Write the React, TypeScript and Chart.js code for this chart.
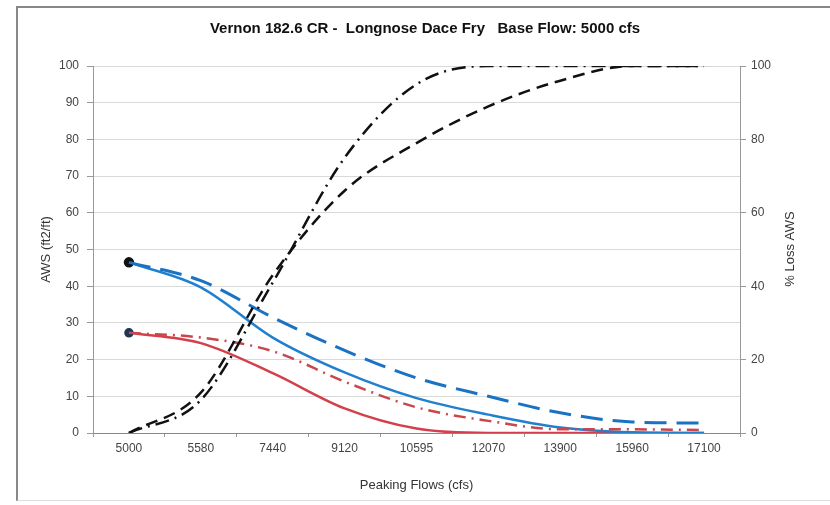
import React, { useEffect, useRef } from 'react';
import { Chart, registerables } from 'chart.js';

Chart.register(...registerables);

const titleText = 'Vernon 182.6 CR -  Longnose Dace Fry   Base Flow: 5000 cfs';
const categories = ['5000', '5580', '7440', '9120', '10595', '12070', '13900', '15960', '17100'];

// AWS (ft2/ft), left axis
const blueSolid = [46.5, 39.7, 26, 16.5, 9.5, 5, 1.5, 0.2, 0];
const blueDashed = [46.5, 41.5, 31.5, 22.5, 15, 10, 5.5, 3, 2.7];
const redSolid = [27.3, 24.5, 16.3, 6.7, 1.2, 0, 0, 0, 0];
const redDashDot = [27.3, 26, 22.3, 14, 7, 3.3, 1, 1, 0.8];

// % Loss AWS, right axis
const lossDashDot = [0, 9, 41, 75, 95, 100, 100, 100, 100];
const lossDashed = [0, 11, 43, 66, 79, 89, 96, 100, 100];

const family = '"Liberation Sans", Arial, sans-serif';

export default function App() {
  const ref = useRef<HTMLCanvasElement>(null);

  useEffect(() => {
    document.body.style.margin = '0';
    const canvas = ref.current!;
    const rightTitle = {
      id: 'rightTitle',
      afterDraw(chart: any) {
        const c = chart.ctx;
        c.save();
        c.translate(790, 249);
        c.rotate(-Math.PI / 2);
        c.font = `13px ${family}`;
        c.fillStyle = '#333';
        c.textAlign = 'center';
        c.textBaseline = 'middle';
        c.fillText('% Loss AWS', 0, 0);
        c.restore();
      },
    };
    const firstOnly = (r: number) => categories.map((_, i) => (i === 0 ? r : 0));
    const tickFont = { size: 12, family };
    const axisTitleFont = { size: 13, family };
    const chart = new Chart(canvas, {
      type: 'line',
      data: {
        labels: categories,
        datasets: [
          {
            label: 'Loss dash-dot',
            data: lossDashDot,
            yAxisID: 'y1',
            borderColor: '#111',
            borderWidth: 2.5,
            borderDash: [14, 6, 2, 6],
            pointRadius: 0,
            cubicInterpolationMode: 'monotone',
            fill: false,
          },
          {
            label: 'Loss dashed',
            data: lossDashed,
            yAxisID: 'y1',
            borderColor: '#111',
            borderWidth: 2.5,
            borderDash: [12, 7],
            pointRadius: 0,
            cubicInterpolationMode: 'monotone',
            fill: false,
          },
          {
            label: 'Blue dashed',
            data: blueDashed,
            yAxisID: 'y',
            borderColor: '#1a72c2',
            borderWidth: 3,
            borderDash: [22, 10],
            pointRadius: 0,
            cubicInterpolationMode: 'monotone',
            fill: false,
          },
          {
            label: 'Red dash-dot',
            data: redDashDot,
            yAxisID: 'y',
            borderColor: '#c8474d',
            borderWidth: 2.5,
            borderDash: [12, 6, 2, 6],
            pointRadius: 0,
            cubicInterpolationMode: 'monotone',
            fill: false,
          },
          {
            label: 'Blue solid',
            data: blueSolid,
            yAxisID: 'y',
            borderColor: '#1f80d0',
            borderWidth: 2.5,
            pointRadius: firstOnly(4),
            pointBackgroundColor: '#111',
            pointBorderColor: '#111',
            cubicInterpolationMode: 'monotone',
            fill: false,
          },
          {
            label: 'Red solid',
            data: redSolid,
            yAxisID: 'y',
            borderColor: '#d3404b',
            borderWidth: 2.5,
            pointRadius: firstOnly(3.5),
            pointBackgroundColor: '#1f3558',
            pointBorderColor: '#1f3558',
            cubicInterpolationMode: 'monotone',
            fill: false,
          },
        ],
      },
      options: {
        responsive: false,
        animation: false,
        layout: { padding: { left: 20, right: 0, top: 0, bottom: 5 } },
        plugins: {
          legend: { display: false },
          tooltip: { enabled: false },
          title: {
            display: true,
            text: titleText,
            color: '#111',
            font: { size: 15, weight: 'bold', family },
            padding: { top: 20, bottom: 28 },
          },
        },
        scales: {
          x: {
            offset: true,
            grid: {
              display: true,
              drawOnChartArea: false,
              drawTicks: true,
              tickLength: 4,
              offset: true,
              color: '#999',
            },
            border: { color: '#888' },
            ticks: { padding: 4, font: tickFont, color: '#444', maxRotation: 0, autoSkip: false },
            title: {
              display: true,
              text: 'Peaking Flows (cfs)',
              color: '#333',
              font: axisTitleFont,
              padding: { top: 0, bottom: 7 },
            },
            afterFit: (s: any) => {
              s.height = 67;
            },
          },
          y: {
            position: 'left',
            min: 0,
            max: 100,
            ticks: { stepSize: 10, padding: 8, font: tickFont, color: '#444' },
            grid: { color: '#d9d9d9', tickLength: 6, tickColor: '#999' },
            border: { color: '#999' },
            title: {
              display: true,
              text: 'AWS (ft2/ft)',
              color: '#333',
              font: axisTitleFont,
              padding: { top: 19, bottom: 0 },
            },
            afterFit: (s: any) => {
              s.width = 73;
            },
          },
          y1: {
            position: 'right',
            min: 0,
            max: 100,
            ticks: { stepSize: 20, padding: 5, font: tickFont, color: '#444' },
            grid: { drawOnChartArea: false, tickLength: 6, color: '#999' },
            border: { color: '#999' },
            afterFit: (s: any) => {
              s.width = 90;
            },
          },
        },
      },
      plugins: [rightTitle],
    } as any);
    return () => chart.destroy();
  }, []);

  return (
    <div style={{ position: 'relative', width: 830, height: 505, background: '#fff' }}>
      <div
        style={{
          position: 'absolute',
          left: 16,
          top: 6,
          right: 0,
          bottom: 4,
          borderTop: '2px solid #888',
          borderLeft: '2px solid #888',
          borderBottom: '1px solid #ddd',
        }}
      />
      <canvas ref={ref} width={830} height={505} style={{ position: 'absolute', left: 0, top: 0 }} />
    </div>
  );
}
